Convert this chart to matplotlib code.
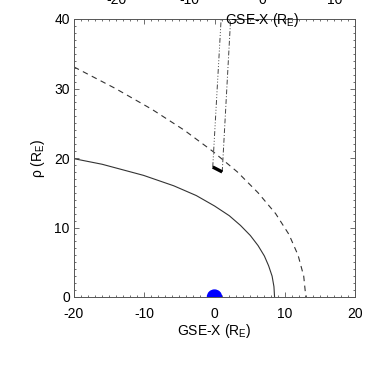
import numpy as np
import matplotlib
matplotlib.use("Agg")
import matplotlib.pyplot as plt
from matplotlib.patches import Circle

plt.rcParams['font.family'] = ['Liberation Sans', 'DejaVu Sans']
plt.rcParams['mathtext.fontset'] = 'custom'
plt.rcParams['mathtext.rm'] = 'Liberation Sans'
plt.rcParams['font.size'] = 10
plt.rcParams['axes.unicode_minus'] = False

# magnetopause (solid)
mp_x = [-20.0, -16.0, -10.1, -5.8, -2.6, 0.0, 2.1, 3.7, 5.1, 6.2, 7.1, 7.7, 8.2, 8.46, 8.55]
mp_y = [19.9, 19.1, 17.5, 16.0, 14.6, 13.1, 11.7, 10.3, 8.85, 7.4, 5.9, 4.5, 3.0, 1.5, 0.0]

# bow shock (dashed)
bs_x = [-20.0, -14.1, -8.9, -4.3, -0.3, 3.25, 6.2, 8.7, 10.6, 11.9, 12.7, 13.0]
bs_y = [33.1, 30.0, 27.0, 24.0, 21.0, 18.0, 15.0, 12.0, 9.0, 6.0, 3.0, 0.0]

# spacecraft traces
sc1_x = [-0.25, 1.0]
sc1_y = [18.7, 41.0]
sc2_x = [1.1, 2.35]
sc2_y = [18.0, 41.0]
seg_x = [-0.25, 1.1]
seg_y = [18.7, 18.0]

earth_x, earth_y, earth_r = 0.0, 0.0, 1.0

xticks = [-20, -10, 0, 10, 20]
yticks = [0, 10, 20, 30, 40]
top_ticks = [-20, -10, 0, 10]

fig = plt.figure(figsize=(3.74, 3.74), dpi=100)
ax = fig.add_axes([74 / 374, 77 / 374, 281 / 374, 278 / 374])

ax.plot(mp_x, mp_y, color='#333333', lw=0.8)
ax.plot(bs_x, bs_y, color='#333333', lw=0.8, dashes=(5, 4))
ax.plot(sc1_x, sc1_y, color='#444444', lw=0.7, dashes=(5, 2, 1, 2, 1, 2, 1, 2))
ax.plot(sc2_x, sc2_y, color='#444444', lw=0.7, dashes=(5, 2, 1, 2))
ax.plot(seg_x, seg_y, color='black', lw=2.4, solid_capstyle='butt')
ax.add_patch(Circle((earth_x, earth_y), earth_r, color='#0000ff', zorder=3))

ax.set_xlim(-20, 20)
ax.set_ylim(0, 40)
ax.set_xticks(xticks)
ax.set_yticks(yticks)
ax.set_xticks(np.arange(-20, 21, 1), minor=True)
ax.set_yticks(np.arange(0, 41, 1), minor=True)
ax.tick_params(which='both', direction='in', top=True, right=True, color='#555555', width=0.6)
ax.tick_params(which='major', length=3.3)
ax.tick_params(which='minor', length=1.6)
ax.tick_params(axis='x', pad=7)
ax.tick_params(axis='y', pad=3)
for s in ax.spines.values():
    s.set_color('#555555')
    s.set_linewidth(0.7)
ax.set_xlabel('GSE-X (R$_\\mathrm{E}$)', labelpad=1)
ax.set_ylabel('ρ (R$_\\mathrm{E}$)', labelpad=5)

# axis labels of the panel above, cut by the figure edge
ax2 = fig.add_axes([116 / 374, 1.03, 292 / 374, 0.01])
ax2.set_xlim(-20, 20)
ax2.set_xticks(top_ticks)
ax2.set_yticks([])
ax2.tick_params(axis='x', length=0, pad=3)
for s in ax2.spines.values():
    s.set_visible(False)
ax2.patch.set_visible(False)
ax2.set_xlabel('GSE-X (R$_\\mathrm{E}$)', labelpad=3)

fig.savefig('out.png', dpi=100)
